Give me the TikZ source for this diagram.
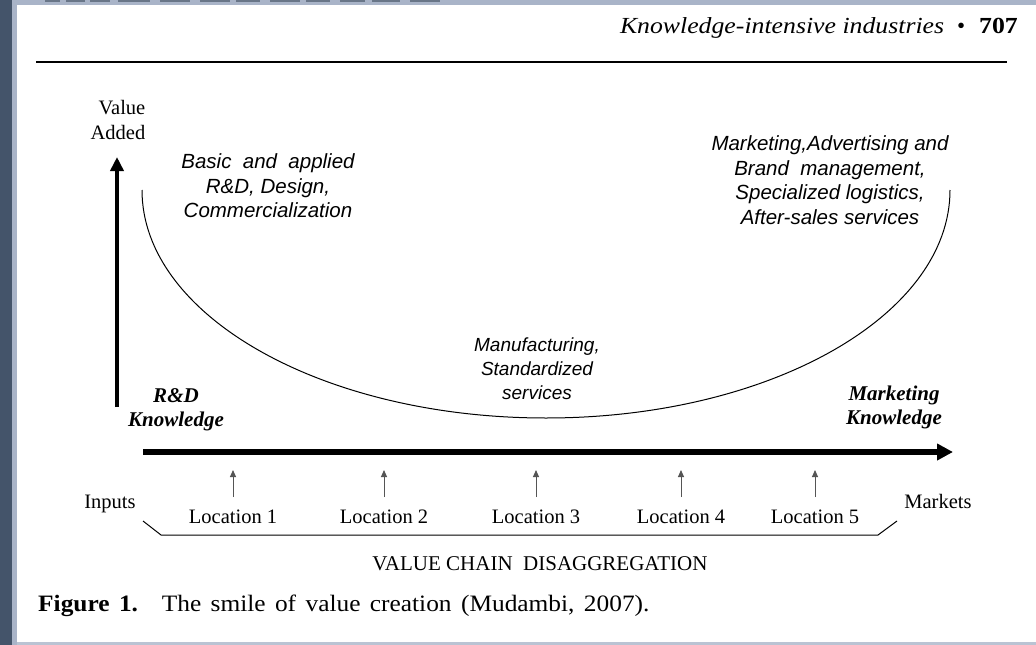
\documentclass[tikz,border=0pt]{standalone}
\usepackage{fontspec}
\setmainfont{Liberation Serif}
\setsansfont{Liberation Sans}
\usetikzlibrary{arrows.meta}
\definecolor{slate}{HTML}{44546A}
\definecolor{frameblue}{HTML}{A9B4C8}
\definecolor{tipgray}{HTML}{555555}
\tikzset{
  sanslabel/.style={font=\sffamily\itshape\fontsize{20.5}{24.5}\selectfont, align=center, inner sep=0pt},
  seriflabel/.style={font=\fontsize{20.5}{25}\selectfont, inner sep=0pt},
  knowlabel/.style={font=\bfseries\itshape\fontsize{21}{24}\selectfont, align=center, inner sep=0pt},
  locarrow/.style={draw=tipgray, line width=1pt, -{Triangle[length=7pt,width=6pt]}},
}
\begin{document}
\begin{tikzpicture}[x=1pt,y=-1pt]
\useasboundingbox (0,0) rectangle (1036,645);
% page frame
\fill[white] (0,0) rectangle (1036,645);
\fill[frameblue] (0,0) rectangle (1036,5);
\fill[frameblue] (12,0) rectangle (17,645);
\fill[frameblue!80] (17,642) rectangle (1036,645);
\fill[slate] (0,0) rectangle (12,645);
\foreach \a/\b in {45/60,66/85,90/110,118/150,160/190,200/230,236/260,270/300,306/330,340/365,372/400,410/440}
  \fill[slate!80] (\a,0) rectangle (\b,2);
% header
\node[anchor=base east, inner sep=0pt, font=\fontsize{23}{26}\selectfont] (hdr) at (1018,33)
  {\scalebox{1.12}[1]{\textit{Knowledge-intensive industries}}\hspace{13pt}\textbullet\hspace{14pt}\scalebox{1.12}[1]{\textbf{707}}};
\draw[line width=2.6pt] (36,62) -- (1007,62);
% axes
\coordinate (vbot) at (117,407);
\coordinate (vtop) at (117,157);
\draw[line width=4pt, -{Triangle[length=14pt,width=13pt]}] (vbot) -- (vtop);
\coordinate (hl) at (143,452);
\coordinate (hr) at (953,452);
\draw[line width=5.5pt, -{Triangle[length=16pt,width=16pt]}] (hl) -- (hr);
% smile curve
\draw[line width=1pt] (142,190) arc[start angle=180, end angle=0, x radius=404, y radius=228];
% labels
\node[seriflabel, align=right] (va) at (118,120) {Value\\Added};
\node[sanslabel] (rd) at (268,186) {Basic\ \ and\ \ applied\\R\&D, Design,\\Commercialization};
\node[sanslabel] (mk) at (830,180) {Marketing,Advertising and\\Brand\ \ management,\\Specialized logistics,\\After-sales services};
\node[sanslabel, font=\sffamily\itshape\fontsize{19}{24}\selectfont] (mf) at (537,369) {Manufacturing,\\Standardized\\services};
\node[knowlabel] (rdk) at (176,410) {R\&D\\Knowledge};
\node[knowlabel] (mkk) at (894,407) {Marketing\\Knowledge};
% locations
\foreach \i/\x in {1/233,2/384,3/536,4/681,5/815}{
  \node[seriflabel, anchor=base] (loc\i) at (\x,523) {Location \i};
  \coordinate (up\i) at (\x,470);
  \coordinate (lb\i) at (\x,497);
  \draw[locarrow] (lb\i) -- (up\i);
}
\node[seriflabel, anchor=base] (inp) at (110,508) {Inputs};
\node[seriflabel, anchor=base] (mkt) at (938,508) {Markets};
% bracket
\coordinate (b1) at (143,521);
\coordinate (b2) at (161,535);
\coordinate (b3) at (878,535);
\coordinate (b4) at (897,521);
\draw[line width=1pt] (b1) -- (b2) -- (b3) -- (b4);
\node[seriflabel, anchor=base, font=\fontsize{21}{25}\selectfont] (vcd) at (540,570) {VALUE CHAIN\ \ DISAGGREGATION};
% caption
\node[anchor=base west, inner sep=0pt, font=\fontsize{23.5}{26}\selectfont] (cap) at (38,611)
  {\scalebox{1.08}[1]{\spaceskip=0.37em\textbf{Figure 1.}\hspace{22pt}The smile of value creation (Mudambi, 2007).}};
\end{tikzpicture}
\end{document}
